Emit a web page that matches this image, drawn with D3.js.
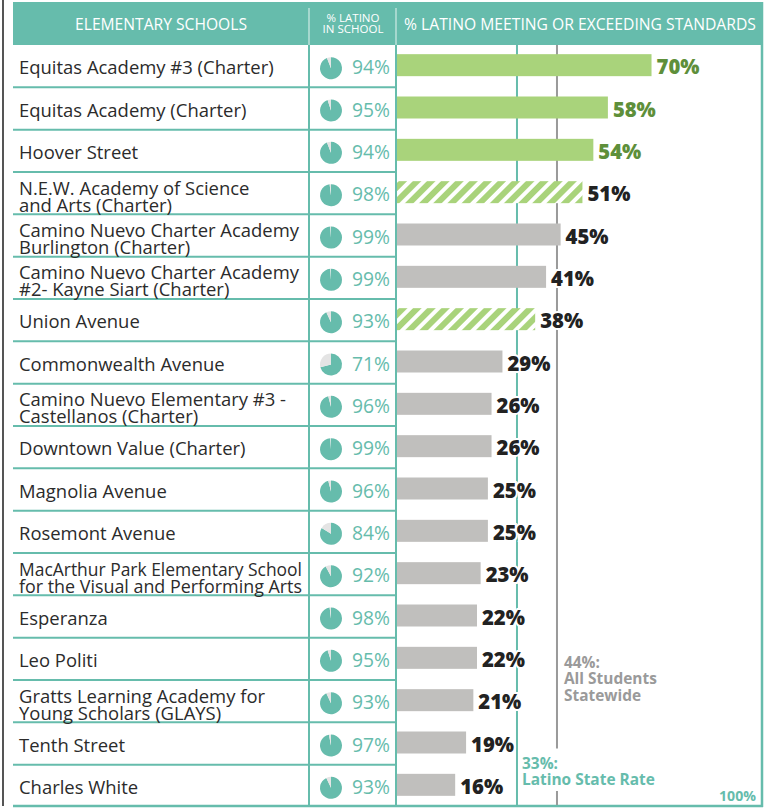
<!DOCTYPE html>
<html><head><meta charset="utf-8">
<script src="https://cdn.jsdelivr.net/npm/d3@7"></script>
<style>body{margin:0;background:#fff}svg{display:block}text{font-family:"Open Sans",Lato,sans-serif}</style>
</head><body><svg id="c" width="773" height="809"></svg>
<script>
const schools = [
 ["Equitas Academy #3 (Charter)"],
 ["Equitas Academy (Charter)"],
 ["Hoover Street"],
 ["N.E.W. Academy of Science","and Arts (Charter)"],
 ["Camino Nuevo Charter Academy","Burlington (Charter)"],
 ["Camino Nuevo Charter Academy","#2- Kayne Siart (Charter)"],
 ["Union Avenue"],
 ["Commonwealth Avenue"],
 ["Camino Nuevo Elementary #3 -","Castellanos (Charter)"],
 ["Downtown Value (Charter)"],
 ["Magnolia Avenue"],
 ["Rosemont Avenue"],
 ["MacArthur Park Elementary School","for the Visual and Performing Arts"],
 ["Esperanza"],
 ["Leo Politi"],
 ["Gratts Learning Academy for","Young Scholars (GLAYS)"],
 ["Tenth Street"],
 ["Charles White"]
];
const latinoShare = [94,95,94,98,99,99,93,71,96,99,96,84,92,98,95,93,97,93];
const meeting = [70,58,54,51,45,41,38,29,26,26,25,25,23,22,22,21,19,16];
// solid = above state rates, hatch = above Latino rate only, gray = below
const barType = ["solid","solid","solid","hatch","gray","gray","hatch","gray","gray","gray","gray","gray","gray","gray","gray","gray","gray","gray"];
const headers = ["ELEMENTARY SCHOOLS", ["% LATINO","IN SCHOOL"], "% LATINO MEETING OR EXCEEDING STANDARDS"];
const refLines = [{v:33, lines:["33%:","Latino State Rate"]},{v:44, lines:["44%:","All Students","Statewide"]}];
const axisMaxLabel = "100%";

const TEAL="#66BCAC", GREEN="#A9D37B", DGREEN="#5E8F3A", GRAY="#C0BFBD";
const svg = d3.select("#c");
const L=13, R=763, TOP=2, HB=45, BOT=807, C1=309, C2=396;
const x = d3.scaleLinear().domain([0,100]).range([397,760.6]);
const y = d3.scaleBand().domain(d3.range(schools.length)).range([HB,BOT]);

// font size so that a sample string has the target width
function sizeFor(str, target, weight){
 const t = svg.append("text").attr("font-size",20).attr("font-weight",weight||400).text(str);
 const w = t.node().getComputedTextLength(); t.remove();
 return +(20*target/w).toFixed(2);
}
const NAME_FS = sizeFor("Camino Nuevo Charter Academy", 280);
const PCT_FS = sizeFor("94%", 38, 500);
const VAL_FS = sizeFor("51%", 43, 800);
const REF_FS = sizeFor("Latino State Rate", 133, 700);
const NAME_MAX = 283;

const defs = svg.append("defs");
const pat = defs.append("pattern").attr("id","hatch").attr("patternUnits","userSpaceOnUse")
 .attr("width",10).attr("height",10).attr("patternTransform","rotate(45)");
pat.append("rect").attr("width",10).attr("height",10).attr("fill","#fff");
pat.append("rect").attr("width",6).attr("height",10).attr("fill",GREEN);

// left dark line
svg.append("rect").attr("x",2).attr("y",0).attr("width",2).attr("height",806).attr("fill","#555");

// header
svg.append("rect").attr("x",L).attr("y",TOP).attr("width",R-L).attr("height",HB-TOP).attr("fill",TEAL);
[C1,C2].forEach(cx=>svg.append("line").attr("x1",cx).attr("x2",cx).attr("y1",TOP+6).attr("y2",HB)
 .attr("stroke","#fff").attr("stroke-opacity",0.7).attr("stroke-width",1.2));
svg.append("text").attr("x",(L+C1)/2).attr("y",30).attr("text-anchor","middle").attr("fill","#fff")
 .attr("font-size",sizeFor(headers[0],172)).text(headers[0]);
headers[1].forEach((t,i)=>svg.append("text").attr("x",(C1+C2)/2+0.5).attr("y",21.5+i*11.5).attr("text-anchor","middle")
 .attr("fill","#fff").attr("font-size",11.5).text(t));
svg.append("text").attr("x",(C2+R)/2+0.5).attr("y",30).attr("text-anchor","middle").attr("fill","#fff")
 .attr("font-size",sizeFor(headers[2],352)).text(headers[2]);

// row separators (table columns only)
const rows = d3.range(schools.length);
svg.selectAll(".sep").data(rows.slice(1)).join("line")
 .attr("x1",L).attr("x2",C2).attr("y1",d=>y(d)).attr("y2",d=>y(d)).attr("stroke",TEAL).attr("stroke-width",2);
[C1,C2].forEach(cx=>svg.append("line").attr("x1",cx).attr("x2",cx).attr("y1",HB).attr("y2",BOT).attr("stroke",TEAL).attr("stroke-width",2));
svg.append("line").attr("x1",R-1).attr("x2",R-1).attr("y1",TOP).attr("y2",BOT).attr("stroke",TEAL).attr("stroke-width",2.5);
svg.append("line").attr("x1",L).attr("x2",R).attr("y1",BOT-1).attr("y2",BOT-1).attr("stroke",TEAL).attr("stroke-width",2.5);

// reference lines
refLines.forEach(r=>svg.append("line").attr("x1",x(r.v)).attr("x2",x(r.v)).attr("y1",HB).attr("y2",BOT-2)
 .attr("stroke", r.v===33?TEAL:"#9a9a9a").attr("stroke-width",2));

// school names
const bw = y.bandwidth();
rows.forEach(i=>{
 const n = schools[i], cy = y(i)+bw/2;
 n.forEach((s,j)=>{
  const t = svg.append("text").attr("x",19).attr("fill","#2b2b2b").attr("font-size",NAME_FS)
   .attr("y", n.length===1 ? cy+8 : cy+1.5+j*17).text(s);
  if (t.node().getComputedTextLength() > NAME_MAX)
   t.attr("textLength",NAME_MAX).attr("lengthAdjust","spacingAndGlyphs");
 });
});

// pies
const arc = d3.arc().innerRadius(0).outerRadius(11);
const pie = d3.pie().sort(null);
rows.forEach(i=>{
 const g = svg.append("g").attr("transform",`translate(331,${y(i)+bw/2+2})`);
 g.selectAll("path").data(pie([latinoShare[i],100-latinoShare[i]])).join("path")
  .attr("d",arc).attr("fill",(d,k)=>k===0?TEAL:"#E4E4E4");
 svg.append("text").attr("x",390).attr("y",y(i)+bw/2+8).attr("text-anchor","end")
  .attr("fill",TEAL).attr("font-size",PCT_FS).attr("font-weight",500).text(latinoShare[i]+"%");
});

// bars
svg.selectAll(".bar").data(rows).join("rect")
 .attr("x",x(0)).attr("y",d=>y(d)+bw/2-12).attr("height",22)
 .attr("width",d=>x(meeting[d])-x(0))
 .attr("fill",d=>barType[d]==="solid"?GREEN:barType[d]==="hatch"?"url(#hatch)":GRAY);
svg.selectAll(".val").data(rows).join("text")
 .attr("x",d=>x(meeting[d])+5).attr("y",d=>y(d)+bw/2+8)
 .attr("font-size",VAL_FS).attr("font-weight",800)
 .attr("fill",d=>barType[d]==="solid"?DGREEN:"#222")
 .attr("stroke","#fff").attr("stroke-width",4).attr("paint-order","stroke")
 .text(d=>meeting[d]+"%");

// ref labels
const r44 = refLines[1], r33 = refLines[0];
const t44 = svg.append("text").attr("fill","#9a9a9a").attr("font-size",REF_FS).attr("font-weight",700);
r44.lines.forEach((s,j)=>t44.append("tspan").attr("x",x(r44.v)+7).attr("y",668+j*16.3).text(s));
const g33 = svg.append("g");
const t33 = g33.append("text").attr("fill",TEAL).attr("font-size",REF_FS).attr("font-weight",700);
r33.lines.forEach((s,j)=>t33.append("tspan").attr("x",x(r33.v)+5).attr("y",768.5+j*16.5).text(s));
const bb = t33.node().getBBox();
g33.insert("rect","text").attr("x",bb.x-1).attr("y",bb.y-3).attr("width",bb.width+3).attr("height",bb.height+4).attr("fill","#fff");
svg.append("text").attr("x",756).attr("y",801).attr("text-anchor","end").attr("fill",TEAL)
 .attr("font-size",sizeFor(axisMaxLabel,37,700)).attr("font-weight",700).text(axisMaxLabel);
</script></body></html>
